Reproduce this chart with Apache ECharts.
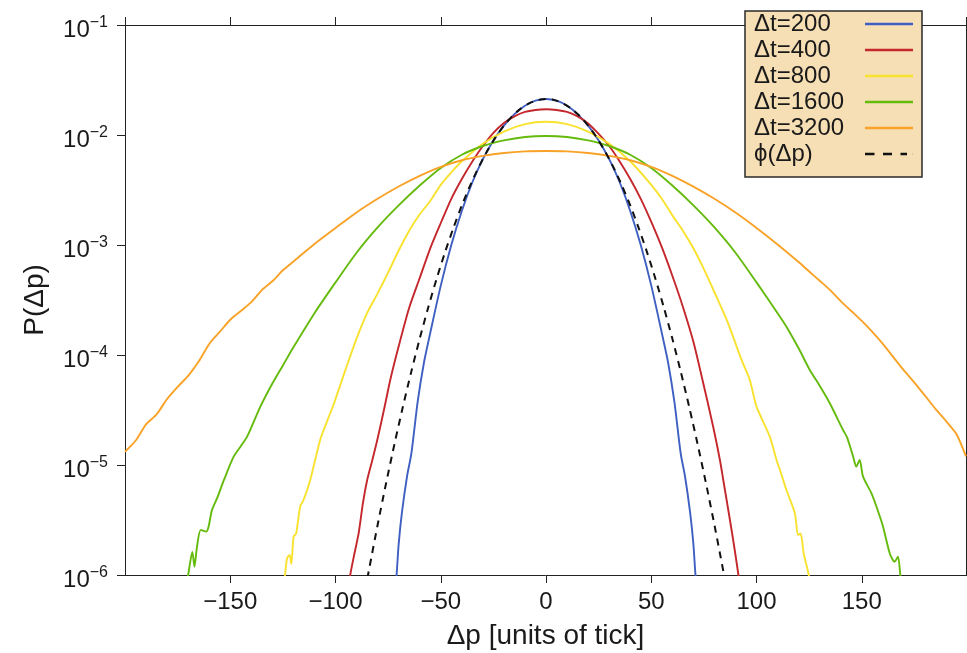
<!DOCTYPE html>
<html><head><meta charset="utf-8">
<script src="https://cdn.jsdelivr.net/npm/echarts/dist/echarts.min.js"></script>
<style>html,body{margin:0;padding:0;background:#fff}#c{width:967px;height:653px}</style>
</head><body><div id="c"></div><script>
const FONT = '"Liberation Sans", Arial, Helvetica, sans-serif';

const seriesNames = ['Δt=200', 'Δt=400', 'Δt=800', 'Δt=1600', 'Δt=3200', 'ϕ(Δp)'];
const xTickLabels = ['−150', '−100', '−50', '0', '50', '100', '150'];
const yTickLabels = ['10−6', '10−5', '10−4', '10−3', '10−2', '10−1'];

const dt200_dp = [-72.5,-71,-70,-68.5,-66,-64,-61,-58,-55,-50,-45,-40,-35,-30,-25,-20,-15,-10,-5,0,5,10,15,20,25,30,35,40,45,50,55,58,61,64,66,68.5,70,71,72.5];
const dt200_P  = [5.01e-7,1.00e-6,1.91e-6,3.63e-6,7.94e-6,1.26e-5,3.72e-5,8.51e-5,1.585e-4,4.27e-4,1.00e-3,2.04e-3,3.72e-3,6.03e-3,8.91e-3,1.216e-2,1.549e-2,1.845e-2,2.051e-2,2.123e-2,2.051e-2,1.845e-2,1.549e-2,1.216e-2,8.91e-3,6.03e-3,3.72e-3,2.04e-3,1.00e-3,4.27e-4,1.585e-4,8.51e-5,3.72e-5,1.26e-5,7.94e-6,3.63e-6,1.91e-6,1.00e-6,5.01e-7];

const dt400_dp = [-95,-93,-91.5,-89,-87,-85,-82.5,-80,-77,-74,-70,-65,-60,-55,-50,-45,-40,-35,-30,-25,-20,-15,-10,-5,0,5,10,15,20,25,30,35,40,45,50,55,60,65,70,74,79.4,82.6,84.2,86.5,88.9,91.4,93];
const dt400_P  = [5.01e-7,1.00e-6,1.41e-6,2.40e-6,4.47e-6,7.24e-6,1.11e-5,1.74e-5,3.16e-5,5.93e-5,1.20e-4,2.69e-4,5.01e-4,9.33e-4,1.585e-3,2.63e-3,3.98e-3,5.75e-3,7.94e-3,1.047e-2,1.288e-2,1.479e-2,1.622e-2,1.690e-2,1.714e-2,1.690e-2,1.622e-2,1.479e-2,1.274e-2,1.023e-2,7.94e-3,5.75e-3,3.98e-3,2.63e-3,1.622e-3,9.55e-4,5.25e-4,2.75e-4,1.32e-4,6.31e-5,2.23e-5,1.11e-5,7.31e-6,3.98e-6,2.08e-6,1.00e-6,5.62e-7];

const dt800_dp = [-126,-124,-123,-121.8,-121,-119.9,-118.7,-116.8,-115.2,-112,-107.3,-103.8,-100.9,-95,-90,-85,-80,-75,-70,-65,-60,-55,-50,-45,-40,-30,-20,-10,0,10,20,30,40,50,55,60,65,70,75,80,86.5,92.9,96.8,100,106.3,109.5,111.1,114.2,118.2,119.7,120.9,122.4,124.8,127];
const dt800_P  = [5.01e-7,1.00e-6,1.42e-6,1.52e-6,1.26e-6,2.23e-6,2.39e-6,4.18e-6,4.81e-6,7.31e-6,1.69e-5,2.56e-5,3.55e-5,7.59e-5,1.41e-4,2.40e-4,3.63e-4,5.62e-4,8.91e-4,1.35e-3,1.905e-3,2.51e-3,3.52e-3,4.57e-3,5.77e-3,8.34e-3,1.074e-2,1.256e-2,1.321e-2,1.256e-2,1.074e-2,8.34e-3,5.77e-3,3.52e-3,2.63e-3,1.86e-3,1.35e-3,9.33e-4,6.03e-4,3.72e-4,1.94e-4,9.02e-5,5.93e-5,3.39e-5,1.81e-5,1.11e-5,9.02e-6,5.93e-6,3.64e-6,2.31e-6,2.39e-6,1.57e-6,1.00e-6,5.01e-7];

const dt1600_dp = [-172,-170,-168,-167,-165.8,-164,-161.4,-160.3,-158.7,-156,-153,-148.4,-145,-142,-135.7,-130,-125,-120,-110,-100,-90,-80,-70,-60,-50,-40,-30,-20,-10,0,10,20,30,40,50,60,70,80,90,100,110,114.2,120,125.3,130,134.8,141.1,143,145.9,147.4,149,150.6,154.6,157,160.1,163.3,165.6,167.2,168.3,170];
const dt1600_P  = [6.31e-7,1.00e-6,1.62e-6,1.19e-6,1.81e-6,2.57e-6,2.48e-6,2.75e-6,3.89e-6,5.13e-6,7.31e-6,1.19e-5,1.48e-5,1.81e-5,3.39e-5,5.50e-5,8.04e-5,1.175e-4,2.40e-4,4.57e-4,8.51e-4,1.445e-3,2.29e-3,3.47e-3,5.01e-3,6.61e-3,7.94e-3,8.93e-3,9.59e-3,9.80e-3,9.59e-3,8.93e-3,7.94e-3,6.61e-3,5.01e-3,3.47e-3,2.29e-3,1.445e-3,8.51e-4,4.57e-4,2.40e-4,1.81e-4,1.15e-4,7.31e-5,5.25e-5,3.64e-5,2.08e-5,1.78e-5,1.19e-5,9.66e-6,1.11e-5,7.83e-6,5.53e-6,4.17e-6,2.75e-6,1.57e-6,1.32e-6,1.47e-6,1.00e-6,5.62e-7];

const dt3200_dp = [-200,-195,-190,-185,-180,-175,-170,-165,-160,-155,-150,-145,-140,-135,-130,-125,-120,-110,-100,-90,-80,-70,-60,-50,-40,-30,-20,-10,0,10,20,30,40,50,60,70,80,90,100,110,120,125,130,135,140,145,150,155,160,165,170,175,180,185,190,195,199.5];
const dt3200_P  = [1.32e-5,1.66e-5,2.34e-5,2.88e-5,3.98e-5,5.13e-5,6.46e-5,8.71e-5,1.26e-4,1.62e-4,2.09e-4,2.51e-4,3.02e-4,3.89e-4,4.68e-4,5.89e-4,7.08e-4,1.023e-3,1.429e-3,1.977e-3,2.63e-3,3.40e-3,4.25e-3,5.13e-3,5.89e-3,6.46e-3,6.87e-3,7.10e-3,7.16e-3,7.10e-3,6.87e-3,6.46e-3,5.89e-3,5.13e-3,4.25e-3,3.39e-3,2.63e-3,1.972e-3,1.429e-3,1.012e-3,7.00e-4,5.75e-4,4.73e-4,3.89e-4,3.09e-4,2.51e-4,2.04e-4,1.62e-4,1.26e-4,9.55e-5,7.24e-5,5.62e-5,4.27e-5,3.24e-5,2.51e-5,1.905e-5,1.20e-5];

const phi_dp = [-86,-84,-80,-76,-72,-68,-64,-60,-56,-52,-48,-44,-40,-36,-32,-28,-24,-20,-16,-12,-8,-4,0,4,8,12,16,20,24,28,32,36,40,44,48,52,56,60,64,68,72,76,80,84,86];
const phi_P  = [7.12e-7,1.14e-6,2.85e-6,6.80e-6,1.55e-5,3.38e-5,7.06e-5,1.41e-4,2.69e-4,4.91e-4,8.57e-4,1.43e-3,2.29e-3,3.49e-3,5.10e-3,7.12e-3,9.52e-3,1.216e-2,1.486e-2,1.738e-2,1.942e-2,2.076e-2,2.123e-2,2.076e-2,1.942e-2,1.738e-2,1.486e-2,1.216e-2,9.52e-3,7.12e-3,5.10e-3,3.49e-3,2.29e-3,1.43e-3,8.57e-4,4.91e-4,2.69e-4,1.41e-4,7.06e-5,3.38e-5,1.55e-5,6.80e-6,2.85e-6,1.14e-6,7.12e-7];

const colors = ['#3f5fc2', '#c4272c', '#f8e22e', '#64bb0c', '#f9a228', '#111111'];

function zip(xs, ys) { return xs.map((x, i) => [x, ys[i]]); }
const dataSets = [
  zip(dt200_dp, dt200_P), zip(dt400_dp, dt400_P), zip(dt800_dp, dt800_P),
  zip(dt1600_dp, dt1600_P), zip(dt3200_dp, dt3200_P), zip(phi_dp, phi_P)
];

const xTickValues = [-150, -100, -50, 0, 50, 100, 150];
const axisColor = '#222';
const SOLID_ICON = 'path://M0,0H48V2.4H0Z';
const DASH_ICON = 'path://M0,0H9.5V2.4H0ZM18,0H27V2.4H18ZM35.5,0H42V2.4H35.5ZM47.9,0H48V2.4H47.9Z';

const chart = echarts.init(document.getElementById('c'), null, { renderer: 'canvas' });
const option = {
  animation: false,
  backgroundColor: '#ffffff',
  textStyle: { fontFamily: FONT },
  grid: { left: 125, right: 1, top: 25, bottom: 78, containLabel: false, outerBoundsMode: 'none' },
  legend: {
    data: seriesNames.map((n, i) => ({ name: n, icon: i === 5 ? DASH_ICON : SOLID_ICON })),
    orient: 'vertical', left: 745, top: 11, align: 'right',
    itemWidth: 48, itemHeight: 14, itemGap: 0, symbolKeepAspect: true,
    padding: [0, 9, 10, 9],
    backgroundColor: '#f6dfb4', borderColor: '#2a2a2a', borderWidth: 1.5, borderRadius: 0,
    formatter: n => '{a|' + n + '}',
    textStyle: {
      fontSize: 24, lineHeight: 26, color: '#1a1a1a', fontFamily: FONT,
      rich: { a: { width: 106, align: 'left', fontSize: 24, lineHeight: 26, color: '#1a1a1a', fontFamily: FONT } }
    },
    selectedMode: false
  },
  xAxis: [{
    type: 'value', min: -200, max: 199.5, interval: 50, position: 'bottom',
    name: 'Δp [units of tick]', nameLocation: 'middle', nameGap: 47,
    nameTextStyle: { fontSize: 28, color: '#1a1a1a', fontFamily: FONT },
    axisLine: { show: true, onZero: false, lineStyle: { color: axisColor, width: 1 } },
    axisTick: { show: true, inside: false, length: 8, lineStyle: { color: axisColor } },
    axisLabel: {
      show: true, margin: 15, fontSize: 24, color: '#1a1a1a', fontFamily: FONT,
      showMinLabel: false, showMaxLabel: false,
      formatter: v => { const i = xTickValues.indexOf(Math.round(v)); return (i >= 0 && Math.abs(v - Math.round(v)) < 1e-6) ? xTickLabels[i] : ''; }
    },
    splitLine: { show: false }
  }, {
    type: 'value', min: -200, max: 199.5, interval: 50, position: 'top',
    axisLine: { show: true, onZero: false, lineStyle: { color: axisColor, width: 1 } },
    axisTick: { show: true, inside: false, length: 8, lineStyle: { color: axisColor } },
    axisLabel: { show: false }, splitLine: { show: false }
  }],
  yAxis: [{
    type: 'log', logBase: 10, min: 1e-6, max: 0.1, position: 'left',
    name: 'P(Δp)', nameLocation: 'middle', nameGap: 76, nameRotate: 90,
    nameTextStyle: { fontSize: 28, color: '#1a1a1a', fontFamily: FONT },
    axisLine: { show: true, onZero: false, lineStyle: { color: axisColor, width: 1 } },
    axisTick: { show: true, inside: false, length: 8, lineStyle: { color: axisColor } },
    minorTick: { show: false },
    axisLabel: {
      show: true, margin: 17, color: '#1a1a1a', fontFamily: FONT, padding: [10, 0, 0, 0],
      formatter: v => {
        const e = Math.round(Math.log10(v));
        const lbl = yTickLabels[e + 6];
        if (!lbl) return '';
        return '{b|' + lbl.slice(0, 2) + '}{s|' + lbl.slice(2) + '}';
      },
      rich: {
        b: { fontSize: 24, lineHeight: 30, fontFamily: FONT, color: '#1a1a1a' },
        s: { fontSize: 16, lineHeight: 16, verticalAlign: 'top', fontFamily: FONT, color: '#1a1a1a' }
      }
    },
    splitLine: { show: false }
  }, {
    type: 'log', logBase: 10, min: 1e-6, max: 0.1, position: 'right',
    axisLine: { show: true, onZero: false, lineStyle: { color: axisColor, width: 1 } },
    axisTick: { show: true, inside: false, length: 8, lineStyle: { color: axisColor } },
    axisLabel: { show: false }, splitLine: { show: false }, minorTick: { show: false }
  }],
  series: seriesNames.map((name, i) => ({
    name: name, type: 'line', xAxisIndex: 0, yAxisIndex: 0,
    data: dataSets[i], showSymbol: false, symbol: 'none', smooth: 0.25, clip: true,
    color: colors[i], itemStyle: { color: colors[i] },
    lineStyle: { color: colors[i], width: i === 5 ? 2 : 1.9, type: i === 5 ? [7, 6] : 'solid' },
    emphasis: { disabled: true }, z: 2 + i
  }))
};
chart.setOption(option);
</script></body></html>
